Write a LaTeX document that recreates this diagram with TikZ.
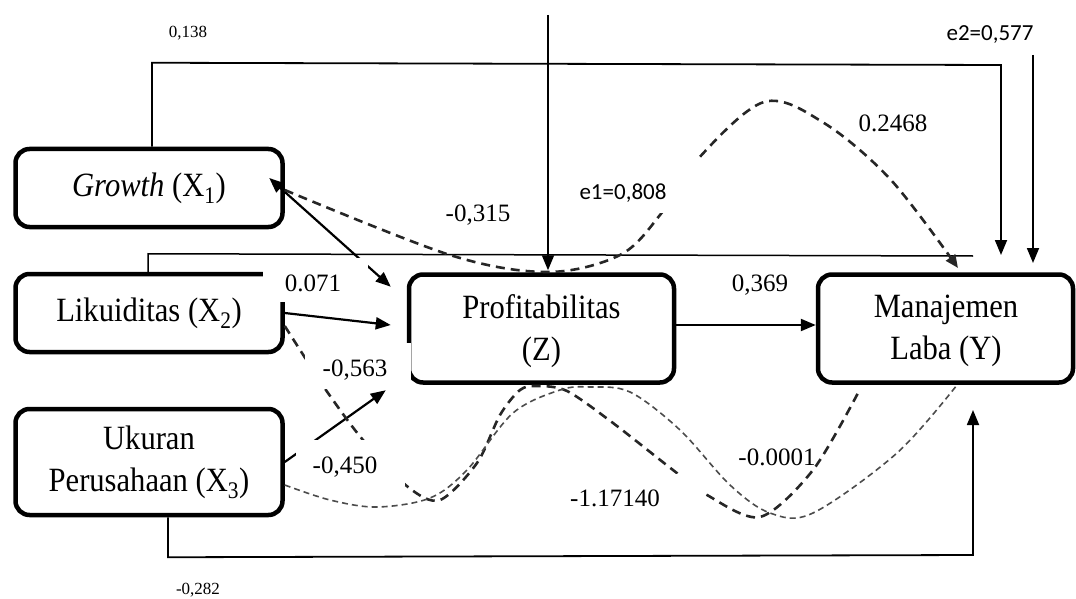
\documentclass[tikz,border=0pt]{standalone}
\usepackage{fontspec}
\setmainfont{Liberation Serif}
\newfontfamily\boxfont[FakeStretch=0.9]{Liberation Serif}
\newfontfamily\sansf{Carlito}
\usetikzlibrary{arrows.meta,calc}
\begin{document}
\begin{tikzpicture}[x=1pt,y=-1pt,
  box/.style={draw, line width=4.5pt, rounded corners=14pt, fill=white, inner sep=0pt,
    font=\boxfont\fontsize{34}{42}\selectfont, align=center},
  boxtext/.style={font=\boxfont\fontsize{34}{42}\selectfont, align=center, inner sep=0pt},
  lab/.style={font=\fontsize{25}{28}\selectfont, inner sep=0pt},
  smalllab/.style={font=\fontsize{17}{19}\selectfont, inner sep=0pt},
  elab/.style={font=\sansf\fontsize{23}{27}\selectfont, inner sep=0pt},
  arr/.style={line width=2.2pt, -{Triangle[length=15pt,width=12pt]}},
  darr/.style={line width=2.2pt, {Triangle[length=15pt,width=12pt]}-{Triangle[length=15pt,width=12pt]}},
  tharr/.style={line width=1.8pt, -{Triangle[length=15pt,width=12pt]}},
  thinline/.style={line width=1.5pt},
  dthick/.style={line width=2.6pt, dash pattern=on 9pt off 6pt, black!85},
  dthin/.style={line width=1.6pt, dash pattern=on 6pt off 4pt, black!70},
]
\useasboundingbox (0,0) rectangle (1076,599);

% boxes
\node[box, minimum width=267pt, minimum height=78pt] (X1) at (149,188) {\textit{Growth} (X\textsubscript{1})};
\node[box, minimum width=267pt, minimum height=78pt] (X2) at (149,313) {Likuiditas (X\textsubscript{2})};
\node[box, minimum width=267pt, minimum height=106pt] (X3) at (149,462) {Ukuran\\Perusahaan (X\textsubscript{3})};
\node[box, minimum width=265pt, minimum height=108pt] (Z) at (541.5,328.5) {};
\node[box, minimum width=255pt, minimum height=108pt] (Y) at (945.5,328.5) {};
\node[boxtext] (Zt) at (541.5,331) {Profitabilitas\\(Z)};
\node[boxtext] (Yt) at (946,331) {Manajemen\\Laba (Y)};

% free ends
\coordinate (e1top) at (548,15);
\coordinate (e2top) at (1033,55);
\coordinate (e2end) at (1033,263);
\coordinate (topend) at (1001,255);
\coordinate (x2end) at (973,256);
\coordinate (x3end) at (973,410);

% solid connectors
\draw[tharr] ([xshift=3pt]X1.north) -- ++(0,-84) -- (1001,65) -- (topend);
\draw[tharr] (e1top) -- ([xshift=6.5pt,yshift=2pt]Z.north);
\draw[tharr] (e2top) -- (e2end);
\draw[thinline] ([xshift=-1pt]X2.north) -- ++(0,-18) -- (x2end);
\draw[tharr] ([xshift=19pt]X3.south) -- ++(0,40) -- (973,555) -- (x3end);
\draw[arr] ([yshift=3.5pt]Z.east) -- ([yshift=3.5pt]Y.west);
\draw[arr] (X2.east) -- ([xshift=-16pt,yshift=3.5pt]Z.west);
\draw[darr] ([xshift=-15.5pt,yshift=10pt]X1.east) -- ([xshift=-16pt,yshift=-14.5pt]Z.north west);
\draw[arr] (X3.east) -- ([xshift=-21pt,yshift=-5.5pt]Z.south west);

% dashed curves
\draw[dthick, -{Triangle[length=13pt,width=11pt]}] plot[smooth, tension=0.55] coordinates {([yshift=-2pt]X1.east) (450,255) (548,272) (620,255) (660,215) (697,160) (764,102) (824,123) (891,180) (958,268)};
\draw[dthick] plot[smooth, tension=0.5] coordinates {([yshift=-13pt]X2.east) (302,353) (328,393) (363,440) (408,487) (440,500) (477,463) (500,415) (520,390) (537,386) (567,391) (613,423) (673,470) (707,495) (760,517) (813,470) (858,393)};
\draw[dthin] plot[smooth, tension=0.55] coordinates {([yshift=-23pt]X3.east) (330,500) (377,507) (430,498) (467,470) (513,413) (560,390) (590,387) (630,392) (680,430) (730,485) (770,513) (813,513) (897,453) (957,385)};

% white covers under labels
\fill[white] (263,258) rectangle (368,302);
\fill[white] (305,343) rectangle (411,389);
\fill[white] (296,440) rectangle (405,486);
\fill[white] (560,474) rectangle (703,520);
\fill[white] (560,158) rectangle (700,213);

% labels
\node[smalllab] (l138) at (188,33) {0,138};
\node[elab] (le2) at (990,35) {e2=0,577};
\node[lab] (l2468) at (893,123) {0.2468};
\node[elab] (le1) at (623,193) {e1=0,808};
\node[lab] (l315) at (478,215) {-0,315};
\node[lab] (l071) at (313,283) {0.071};
\node[lab] (l369) at (760,285) {0,369};
\node[lab] (l563) at (355,370) {-0,563};
\node[lab] (l450) at (345,467) {-0,450};
\node[lab] (l117) at (615,498) {-1.17140};
\node[lab] (l0001) at (777,457) {-0.0001};
\node[smalllab] (l282) at (198,590) {-0,282};
\end{tikzpicture}
\end{document}
